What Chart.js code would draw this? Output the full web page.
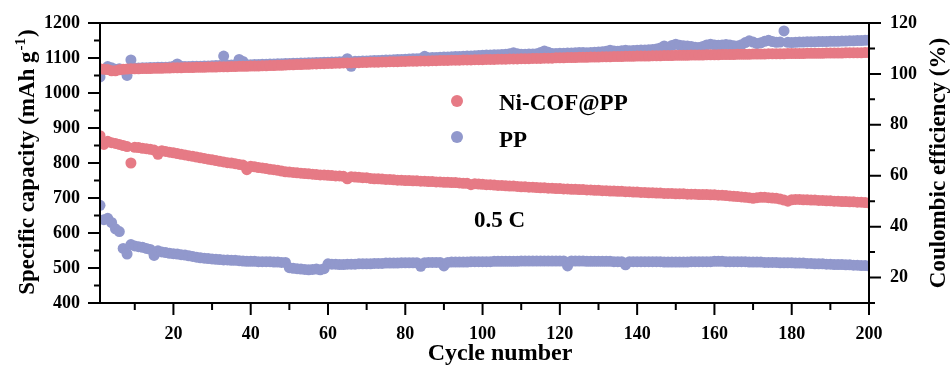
<!DOCTYPE html>
<html>
<head>
<meta charset="utf-8">
<title>Cycling performance</title>
<script src="https://cdn.jsdelivr.net/npm/chart.js"></script>
<style>
    body { margin: 0; background: #fff; }
    #wrap { width: 951px; height: 365px; }
</style>
</head>
<body>
<div id="wrap"><canvas id="cycling" width="951" height="365"></canvas></div>
<script>
// specific capacity (mAh g-1), cycles 1..200
const capNi = [
    878, 853, 862, 858, 856, 853, 850, 847, 800, 845,
    844, 842, 841, 839, 837, 825, 835, 833, 831, 829,
    827, 825, 823, 821, 819, 817, 815, 813, 811, 809,
    807, 805, 803, 801, 800, 798, 796, 794, 781, 791,
    789, 787, 786, 784, 782, 781, 779, 777, 775, 774,
    773, 772, 771, 770, 769, 768, 767, 766, 766, 765,
    764, 763, 763, 762, 755, 761, 760, 759, 758, 758,
    756, 755, 755, 754, 753, 753, 752, 751, 751, 750,
    750, 749, 749, 748, 748, 747, 747, 746, 746, 745,
    745, 744, 744, 743, 742, 742, 738, 741, 740, 739,
    738, 738, 737, 736, 736, 735, 734, 734, 733, 732,
    732, 731, 731, 730, 729, 729, 728, 728, 727, 727,
    726, 726, 725, 725, 724, 724, 723, 723, 722, 722,
    721, 721, 720, 720, 719, 719, 718, 718, 717, 717,
    716, 716, 715, 715, 714, 714, 713, 713, 713, 712,
    712, 712, 711, 711, 711, 710, 710, 710, 709, 709,
    708, 708, 707, 706, 705, 704, 703, 702, 701, 699,
    701, 702, 702, 701, 700, 699, 697, 694, 691, 695,
    696, 696, 695, 695, 694, 694, 693, 693, 692, 692,
    691, 691, 690, 690, 689, 689, 688, 688, 687, 686
];
const capPP = [
    679, 638, 642, 630, 612, 604, 556, 540, 567, 563,
    561, 559, 556, 553, 536, 549, 546, 544, 542, 541,
    540, 538, 537, 535, 533, 531, 529, 528, 527, 526,
    525, 524, 523, 523, 522, 522, 521, 520, 519, 519,
    519, 518, 518, 518, 518, 517, 517, 516, 516, 501,
    499, 498, 497, 496, 495, 496, 497, 495, 498, 512,
    511, 511, 510, 510, 511, 511, 511, 512, 512, 512,
    512, 513, 513, 513, 514, 514, 514, 514, 515, 515,
    515, 515, 515, 505, 515, 516, 516, 516, 516, 506,
    516, 517, 517, 517, 517, 517, 518, 518, 518, 518,
    518, 518, 519, 519, 519, 519, 519, 519, 519, 520,
    520, 520, 520, 520, 520, 520, 520, 520, 520, 520,
    520, 506, 520, 520, 520, 520, 519, 519, 519, 519,
    519, 519, 519, 518, 518, 518, 509, 518, 518, 518,
    518, 518, 518, 518, 518, 518, 517, 517, 517, 517,
    517, 517, 517, 518, 518, 518, 518, 518, 518, 519,
    519, 519, 518, 518, 518, 518, 518, 518, 517, 517,
    517, 517, 516, 516, 516, 516, 515, 515, 515, 515,
    514, 514, 514, 513, 513, 512, 512, 512, 511, 511,
    510, 510, 510, 509, 509, 508, 508, 507, 507, 506
];
// coulombic efficiency (%), cycles 1..200
const ceNi = [
    102.0, 101.8, 101.7, 101.2, 101.2, 101.6, 101.8, 101.9, 102.0, 102.0,
    102.0, 102.1, 102.1, 102.1, 102.2, 102.2, 102.2, 102.3, 102.3, 102.4,
    102.4, 102.4, 102.5, 102.5, 102.5, 102.6, 102.6, 102.6, 102.7, 102.7,
    102.7, 102.8, 102.8, 102.8, 102.9, 102.9, 103.0, 103.0, 103.0, 103.1,
    103.1, 103.1, 103.2, 103.2, 103.3, 103.3, 103.4, 103.4, 103.5, 103.6,
    103.6, 103.7, 103.7, 103.8, 103.8, 103.9, 103.9, 104.0, 104.0, 104.1,
    104.1, 104.2, 104.2, 104.3, 104.3, 104.3, 104.4, 104.4, 104.5, 104.5,
    104.6, 104.6, 104.6, 104.7, 104.7, 104.8, 104.8, 104.8, 104.9, 104.9,
    105.0, 105.0, 105.0, 105.1, 105.1, 105.1, 105.2, 105.2, 105.3, 105.3,
    105.3, 105.4, 105.4, 105.4, 105.5, 105.5, 105.5, 105.6, 105.6, 105.6,
    105.7, 105.7, 105.7, 105.8, 105.8, 105.8, 105.9, 105.9, 105.9, 106.0,
    106.0, 106.0, 106.1, 106.1, 106.1, 106.2, 106.2, 106.2, 106.3, 106.3,
    106.3, 106.4, 106.4, 106.4, 106.5, 106.5, 106.5, 106.6, 106.6, 106.6,
    106.7, 106.7, 106.7, 106.8, 106.8, 106.8, 106.9, 106.9, 106.9, 107.0,
    107.0, 107.0, 107.0, 107.1, 107.1, 107.1, 107.2, 107.2, 107.2, 107.3,
    107.3, 107.3, 107.3, 107.4, 107.4, 107.4, 107.4, 107.5, 107.5, 107.5,
    107.5, 107.6, 107.6, 107.6, 107.6, 107.7, 107.7, 107.7, 107.7, 107.8,
    107.8, 107.8, 107.8, 107.9, 107.9, 107.9, 107.9, 107.9, 108.0, 108.0,
    108.0, 108.0, 108.0, 108.1, 108.1, 108.1, 108.1, 108.1, 108.2, 108.2,
    108.2, 108.2, 108.2, 108.3, 108.3, 108.3, 108.3, 108.3, 108.4, 108.4
];
const cePP = [
    98.8, 101.8, 102.9, 102.4, 101.8, 102.0, 101.6, 99.4, 105.5, 102.3,
    102.3, 102.4, 102.4, 102.5, 102.5, 102.6, 102.6, 102.6, 102.7, 103.0,
    103.9, 103.0, 102.9, 102.9, 103.0, 103.0, 103.0, 103.1, 103.1, 103.2,
    103.3, 103.3, 107.0, 103.5, 103.5, 103.6, 105.7, 104.9, 103.6, 103.6,
    103.7, 103.7, 103.8, 103.8, 103.9, 103.9, 104.0, 104.0, 104.1, 104.1,
    104.2, 104.2, 104.3, 104.3, 104.4, 104.4, 104.5, 104.5, 104.6, 104.6,
    104.7, 104.7, 104.8, 104.8, 106.0, 103.0, 105.0, 105.0, 105.1, 105.1,
    105.2, 105.3, 105.3, 105.4, 105.5, 105.5, 105.6, 105.7, 105.7, 105.8,
    105.9, 106.0, 106.0, 106.1, 106.9, 106.3, 106.4, 106.4, 106.5, 106.6,
    106.6, 106.7, 106.8, 106.8, 106.9, 107.0, 107.0, 107.1, 107.2, 107.3,
    107.4, 107.4, 107.5, 107.5, 107.6, 107.7, 107.9, 108.3, 107.9, 107.7,
    107.7, 107.8, 107.8, 107.9, 108.4, 109.0, 108.5, 108.0, 108.0, 108.1,
    108.1, 108.2, 108.2, 108.3, 108.4, 108.4, 108.3, 108.4, 108.5, 108.6,
    108.7, 108.9, 109.3, 109.0, 108.9, 109.1, 109.3, 109.1, 109.2, 109.3,
    109.4, 109.4, 109.5, 109.6, 109.8, 110.2, 111.0, 110.0, 111.2, 111.7,
    111.3, 111.1, 111.0, 110.8, 110.5, 110.4, 110.8, 111.4, 111.7, 111.4,
    111.3, 111.4, 111.6, 111.4, 111.1, 111.0, 111.5, 112.3, 113.0, 112.5,
    111.9, 112.2, 112.8, 113.2, 112.7, 112.4, 112.5, 116.9, 112.4, 112.3,
    112.4, 112.5, 112.5, 112.6, 112.6, 112.6, 112.7, 112.7, 112.7, 112.8,
    112.8, 112.8, 112.9, 112.9, 113.0, 113.0, 113.1, 113.1, 113.2, 113.3
];

const cycleTicks = [20, 40, 60, 80, 100, 120, 140, 160, 180, 200];
const capTicks = [400, 500, 600, 700, 800, 900, 1000, 1100, 1200];
const ceTicks = [20, 40, 60, 80, 100, 120];

const seriesNames = ['Ni-COF@PP', 'PP'];
const red = 'rgb(230, 122, 133)';
const blue = 'rgb(145, 152, 204)';
const serif = "'Liberation Serif', 'Times New Roman', serif";

// x is the cycle number, i.e. position in the array + 1
function points(values) {
    return values.map((v, i) => ({ x: i + 1, y: v }));
}

function dotSet(label, values, color, axis) {
    return {
        label: label,
        data: points(values),
        yAxisID: axis,
        backgroundColor: color,
        borderWidth: 0,
        pointRadius: 5.5,
        pointBorderWidth: 0,
        pointHoverRadius: 5.5,
        clip: 0
    };
}

const tickFont = { family: serif, weight: 'bold', size: 18 };
const plainLabel = v => String(v);

function fixedTicks(list) {
    return function (scale) {
        scale.ticks = list.map(v => ({ value: v }));
    };
}

// box frame, tick marks, axis titles, legend and rate label
const decorations = {
    id: 'decorations',
    afterDatasetsDraw(chart) {
        const { ctx, chartArea: a, scales } = chart;
        ctx.save();
        ctx.strokeStyle = '#000';
        ctx.lineWidth = 2;
        ctx.strokeRect(a.left, a.top, a.right - a.left, a.bottom - a.top);

        ctx.beginPath();
        for (let v = 10; v <= 200; v += 10) {
            const px = scales.x.getPixelForValue(v);
            const len = v % 20 === 0 ? 12 : 7;
            ctx.moveTo(px, a.bottom);
            ctx.lineTo(px, a.bottom + len);
        }
        for (let v = 400; v <= 1200; v += 50) {
            const py = scales.y.getPixelForValue(v);
            const len = v % 100 === 0 ? 12 : 6;
            ctx.moveTo(a.left, py);
            ctx.lineTo(a.left - len, py);
        }
        for (let v = 10; v <= 120; v += 10) {
            const py = scales.y1.getPixelForValue(v);
            const len = v % 20 === 0 ? 12 : 6;
            ctx.moveTo(a.right, py);
            ctx.lineTo(a.right + len, py);
        }
        ctx.stroke();

        ctx.fillStyle = '#000';
        const midY = (a.top + a.bottom) / 2;
        const big = 'bold 23px ' + serif;
        const small = 'bold 15px ' + serif;

        // bottom title
        ctx.font = 'bold 24px ' + serif;
        ctx.textAlign = 'center';
        ctx.textBaseline = 'alphabetic';
        ctx.fillText('Cycle number', 500, 360);

        // left title with superscript
        const t1 = 'Specific capacity (mAh g';
        const t2 = '-1';
        const t3 = ')';
        ctx.save();
        ctx.translate(33.5, midY);
        ctx.rotate(-Math.PI / 2);
        ctx.textBaseline = 'alphabetic';
        ctx.textAlign = 'left';
        ctx.font = big;
        const w1 = ctx.measureText(t1).width;
        const w3 = ctx.measureText(t3).width;
        ctx.font = small;
        const w2 = ctx.measureText(t2).width;
        let sx = -(w1 + w2 + w3) / 2;
        ctx.font = big;
        ctx.fillText(t1, sx, 0);
        ctx.font = small;
        ctx.fillText(t2, sx + w1 + 1, -9);
        ctx.font = big;
        ctx.fillText(t3, sx + w1 + w2 + 2, 0);
        ctx.restore();

        // right title
        ctx.save();
        ctx.translate(945, midY);
        ctx.rotate(-Math.PI / 2);
        ctx.font = big;
        ctx.textAlign = 'center';
        ctx.textBaseline = 'alphabetic';
        ctx.fillText('Coulombic efficiency (%)', 0, 0);
        ctx.restore();

        // legend
        const legend = [[seriesNames[0], red, 101, 110], [seriesNames[1], blue, 137, 146.5]];
        ctx.font = big;
        ctx.textAlign = 'left';
        ctx.textBaseline = 'alphabetic';
        legend.forEach(([name, color, dotY, baseY]) => {
            ctx.fillStyle = color;
            ctx.beginPath();
            ctx.arc(457, dotY, 6, 0, Math.PI * 2);
            ctx.fill();
            ctx.fillStyle = '#000';
            ctx.fillText(name, 499, baseY);
        });
        ctx.fillText('0.5 C', 474, 226.5);
        ctx.restore();
    }
};

new Chart(document.getElementById('cycling'), {
    type: 'scatter',
    data: {
        datasets: [
            dotSet(seriesNames[0], capNi, red, 'y'),
            dotSet(seriesNames[1], capPP, blue, 'y'),
            dotSet(seriesNames[0], ceNi, red, 'y1'),
            dotSet(seriesNames[1], cePP, blue, 'y1')
        ]
    },
    options: {
        responsive: false,
        devicePixelRatio: 1,
        animation: false,
        layout: { padding: { top: 23, left: 0, right: 0, bottom: 0 } },
        plugins: {
            legend: { display: false },
            tooltip: { enabled: false }
        },
        scales: {
            x: {
                type: 'linear',
                position: 'bottom',
                min: 1,
                max: 200,
                afterBuildTicks: fixedTicks(cycleTicks),
                afterFit(scale) { scale.height = 62; },
                grid: { display: false, drawTicks: true, tickLength: 12 },
                border: { display: false },
                ticks: { font: tickFont, color: '#000', padding: 9, maxRotation: 0, callback: plainLabel }
            },
            y: {
                type: 'linear',
                position: 'left',
                min: 400,
                max: 1200,
                afterBuildTicks: fixedTicks(capTicks),
                afterFit(scale) { scale.width = 100; },
                grid: { display: false, drawTicks: true, tickLength: 12 },
                border: { display: false },
                ticks: { font: tickFont, color: '#000', padding: 8, callback: plainLabel }
            },
            y1: {
                type: 'linear',
                position: 'right',
                min: 10,
                max: 120,
                afterBuildTicks: fixedTicks(ceTicks),
                afterFit(scale) { scale.width = 82; },
                grid: { display: false, drawTicks: true, tickLength: 12 },
                border: { display: false },
                ticks: { font: tickFont, color: '#000', padding: 9, callback: plainLabel }
            }
        }
    },
    plugins: [decorations]
});
</script>
</body>
</html>
